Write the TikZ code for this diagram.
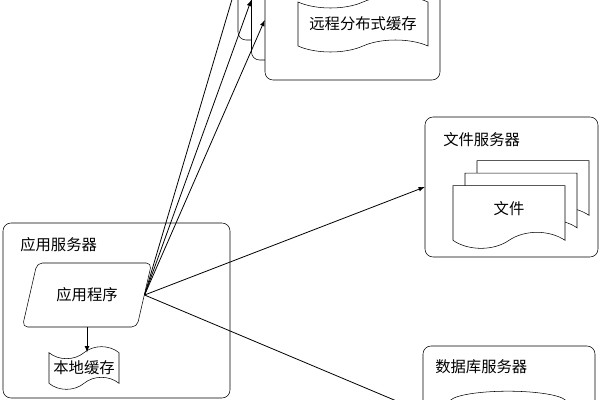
\documentclass[tikz,border=0pt]{standalone}
\usepackage{fontspec}
\usepackage{tikz}
\usetikzlibrary{shapes.geometric,shapes.symbols,shadows}
\newfontfamily\cjk{Noto Sans CJK SC}

\begin{document}
\begin{tikzpicture}[x=0.75pt,y=-0.75pt,
		every node/.style={font=\cjk\fontsize{11.5}{13}\selectfont},
		server/.style={draw,fill=white,rounded corners=6pt,inner sep=0pt},
		title/.style={anchor=west,inner sep=0pt},
		tapebox/.style={tape,draw,fill=white,inner sep=0pt,tape bend height=9pt},
		docbox/.style={tape,draw,fill=white,inner sep=0pt,tape bend top=none,tape bend height=12pt},
		link/.style={-latex,line width=0.6pt}]
	\useasboundingbox (0,0) rectangle (600,400);

	\node[server,minimum width=131.25pt,minimum height=90pt] (rsrvA) at (325.5,-20) {};
	\node[server,minimum width=131.25pt,minimum height=90pt] (rsrvB) at (339,0) {};
	\node[server,minimum width=131.25pt,minimum height=90pt] (rsrvC) at (352.5,20) {};
	\node[tapebox,minimum width=97.5pt,minimum height=42pt] (rcache) at (363,24) {远程分布式缓存};

	\node[server,minimum width=129.75pt,minimum height=105pt] (fsrv) at (511.5,187) {};
	\node[title] (ftitle) at (443,140) {文件服务器};
	\node[docbox,minimum width=84pt,minimum height=47pt,
		copy shadow={shadow xshift=18pt,shadow yshift=18.75pt,draw,fill=white},
		copy shadow={shadow xshift=9pt,shadow yshift=9.4pt,draw,fill=white}] (file) at (509,209) {文件};

	\node[server,minimum width=129pt,minimum height=99pt] (dbsrv) at (509,412) {};
	\node[title] (dbtitle) at (435,367) {数据库服务器};
	\node[cylinder,draw,fill=white,shape border rotate=90,aspect=2.5,minimum width=88pt,minimum height=60pt] (db) at (508,439) {};

	\node[server,minimum width=170.25pt,minimum height=131.25pt] (appsrv) at (116.5,310.5) {};
	\node[title] (apptitle) at (20,245) {应用服务器};
	\node[trapezium,trapezium left angle=66,trapezium right angle=114,trapezium stretches=true,
		draw,fill=white,rounded corners=4pt,minimum width=97.5pt,minimum height=48pt] (app) at (87,295) {应用程序};
	\node[tapebox,minimum width=52.5pt,minimum height=32pt] (local) at (84,368) {本地缓存};

	\draw[link] (app.south) -- (app.south |- local.north);
	\draw[link] (app.east) -- (rsrvA.west);
	\draw[link] (app.east) -- (rsrvB.west);
	\draw[link] (app.east) -- (rsrvC.west);
	\draw[link] (app.east) -- (fsrv.west);
	\draw[link] (app.east) -- (dbsrv.west);
\end{tikzpicture}
\end{document}
